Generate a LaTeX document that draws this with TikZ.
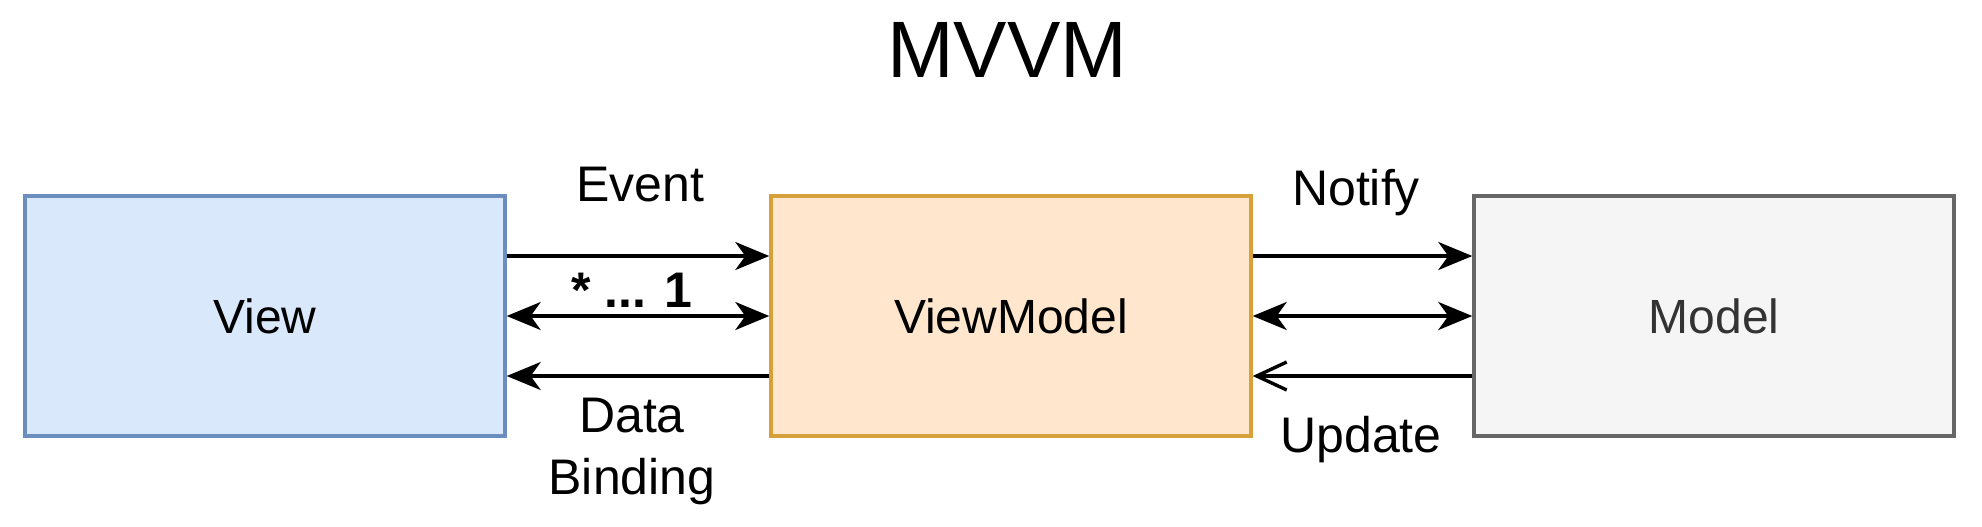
\documentclass[tikz,border=0pt]{standalone}
\usepackage{fontspec}
\setmainfont{Liberation Sans}
\usepackage{xcolor}
\definecolor{viewfill}{HTML}{DAE8FC}
\definecolor{viewline}{HTML}{6C8EBF}
\definecolor{vmfill}{HTML}{FFE6CC}
\definecolor{vmline}{HTML}{D6A13A}
\definecolor{mfill}{HTML}{F5F5F5}
\definecolor{mline}{HTML}{666666}
\definecolor{mtext}{HTML}{333333}
\usetikzlibrary{arrows.meta,positioning}
\tikzset{
  >={Stealth[length=17pt,width=14pt,inset=5pt]},
  box/.style={draw,line width=1.7pt,minimum width=240pt,minimum height=120pt,inner sep=0pt,font=\fontsize{24}{29}\selectfont},
  viewbox/.style={box,draw=viewline,fill=viewfill},
  vmbox/.style={box,draw=vmline,fill=vmfill},
  modelbox/.style={box,draw=mline,fill=mfill,text=mtext},
  link/.style={line width=1.7pt,draw=black},
  lbl/.style={font=\fontsize{25}{31}\selectfont,align=center,inner sep=0pt},
}
\begin{document}
\begin{tikzpicture}[x=0.5pt,y=-0.5pt]
  \useasboundingbox (0,0) rectangle (1982,526);
  \node[font=\fontsize{40}{48}\selectfont] (title) at (1007,50) {MVVM};
  % the three boxes
  \node[viewbox] (view) at (265,316) {View};
  \node[vmbox] (vm) at (1011,316) {ViewModel};
  \node[modelbox] (model) at (1714,316) {Model};
  % View <-> ViewModel
  \draw[link,->] ([yshift=30pt]view.east) -- ([yshift=30pt]vm.west);
  \draw[link,<->] (view.east) -- (vm.west);
  \draw[link,->] ([yshift=-30pt]vm.west) -- ([yshift=-30pt]view.east);
  \node[lbl] (event) at (640,185) {Event};
  \node[lbl,font=\fontsize{25}{31}\selectfont\bfseries] (mult) at (632,290) {* ... 1};
  \node[lbl] (binding) at (632,451) {Data\\Binding};
  % ViewModel <-> Model
  \draw[link,->] ([yshift=30pt]vm.east) -- ([yshift=30pt]model.west);
  \draw[link,<->] (vm.east) -- (model.west);
  \draw[link,-{Straight Barb[length=15pt,width=14pt,line width=1.7pt]}] ([yshift=-30pt]model.west) -- ([yshift=-30pt]vm.east);
  \node[lbl] (notify) at (1356,193) {Notify};
  \node[lbl] (update) at (1361,440) {Update};
\end{tikzpicture}
\end{document}
